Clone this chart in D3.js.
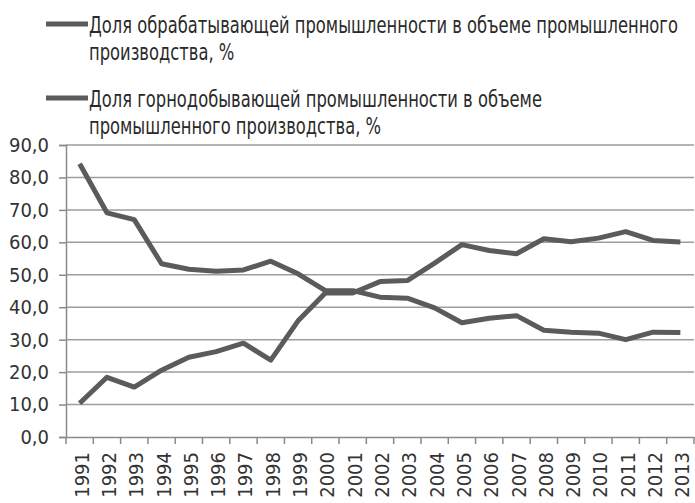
<!DOCTYPE html>
<html><head><meta charset="utf-8">
<script src="https://cdn.jsdelivr.net/npm/d3@7"></script>
<style>
html,body{margin:0;padding:0;background:#fff;}
svg{display:block;}
</style></head>
<body>
<svg id="chart" width="695" height="503"></svg>
<script>
const years = ["1991","1992","1993","1994","1995","1996","1997","1998","1999","2000","2001","2002","2003","2004","2005","2006","2007","2008","2009","2010","2011","2012","2013"];
const manufacturing = [10.4, 18.4, 15.4, 20.6, 24.6, 26.3, 28.9, 23.7, 35.8, 44.4, 44.4, 47.9, 48.2, 53.6, 59.3, 57.5, 56.5, 61.1, 60.2, 61.3, 63.3, 60.6, 60.1];
const mining = [84.2, 69.1, 67.0, 53.4, 51.7, 51.1, 51.5, 54.2, 50.3, 45.1, 45.1, 43.1, 42.8, 39.8, 35.2, 36.6, 37.4, 32.9, 32.3, 32.0, 30.0, 32.3, 32.2];
const yTicks = [0, 10, 20, 30, 40, 50, 60, 70, 80, 90];
const legendLines = [
  ["Доля обрабатывающей промышленности в объеме промышленного", "производства, %"],
  ["Доля горнодобывающей промышленности в объеме", "промышленного производства, %"]
];

const svg = d3.select("#chart");
const pLeft = 66, pRight = 694, pTop = 145, pBottom = 437;
const x = d3.scaleBand().domain(years).range([pLeft, pRight]).padding(0);
const y = d3.scaleLinear().domain([0, 90]).range([pBottom, pTop]);
const fmt = v => d3.format(".1f")(v).replace(".", ",");
const axisFont = "'DejaVu Sans Condensed', 'Liberation Sans', sans-serif";
const lineColor = "#5b5b5b";

// gridlines
svg.append("g").selectAll("line").data(yTicks.filter(d => d > 0)).join("line")
  .attr("x1", pLeft).attr("x2", pRight)
  .attr("y1", d => y(d)).attr("y2", d => y(d))
  .attr("stroke", "#9d9d9d").attr("stroke-width", 1.5);

// y axis
const yAxis = svg.append("g").attr("transform", `translate(${pLeft},0)`)
  .call(d3.axisLeft(y).tickValues(yTicks).tickFormat(fmt).tickSize(7).tickPadding(10));
yAxis.select(".domain").attr("stroke", "#8a8a8a").attr("stroke-width", 1.5);
yAxis.selectAll(".tick line").attr("stroke", "#8a8a8a").attr("stroke-width", 1.5);
yAxis.selectAll("text").attr("font-family", axisFont).attr("font-size", 20).attr("fill", "#333");

// x axis
const xAxis = svg.append("g").attr("transform", `translate(0,${pBottom})`)
  .call(d3.axisBottom(x).tickSize(0).tickFormat(""));
xAxis.select(".domain").attr("stroke", "#8a8a8a").attr("stroke-width", 1.5);
svg.append("g").selectAll("line").data(years.concat(["end"])).join("line")
  .attr("x1", (d, i) => pLeft + i * x.bandwidth()).attr("x2", (d, i) => pLeft + i * x.bandwidth())
  .attr("y1", pBottom).attr("y2", pBottom + 7)
  .attr("stroke", "#8a8a8a").attr("stroke-width", 1.5);
svg.append("g").selectAll("text").data(years).join("text")
  .attr("transform", d => `translate(${x(d) + x.bandwidth() / 2 + 2},${pBottom + 15}) rotate(-90)`)
  .attr("text-anchor", "end").attr("dy", "0.35em")
  .attr("font-family", axisFont).attr("font-size", 20).attr("fill", "#333")
  .text(d => d);

// lines
const line = d3.line().x((d, i) => x(years[i]) + x.bandwidth() / 2).y(d => y(d));
[mining, manufacturing].forEach(series => {
  svg.append("path").datum(series)
    .attr("d", line).attr("fill", "none")
    .attr("stroke", lineColor).attr("stroke-width", 5)
    .attr("stroke-linejoin", "round").attr("stroke-linecap", "butt");
});

// legend
const legFont = "'Liberation Sans Narrow', 'DejaVu Sans Condensed', 'Roboto', sans-serif";
const legY = [[33, 60], [107, 134]];
const markerY = [24, 98];
const lg = svg.append("g");
legendLines.forEach((lines, k) => {
  lg.append("line").attr("x1", 46).attr("x2", 88)
    .attr("y1", markerY[k]).attr("y2", markerY[k])
    .attr("stroke", lineColor).attr("stroke-width", 5);
});
const tg = lg.append("g");
const texts = [];
legendLines.forEach((lines, k) => {
  lines.forEach((t, j) => {
    const el = tg.append("text").attr("x", 0).attr("y", legY[k][j])
      .attr("font-family", legFont).attr("font-size", 23).attr("fill", "#2a2a2a")
      .text(t);
    texts.push(el);
  });
});
const w0 = texts[0].node().getComputedTextLength();
const kx = 589 / w0;
tg.attr("transform", `translate(89,0) scale(${kx},1)`);
</script>
</body></html>
